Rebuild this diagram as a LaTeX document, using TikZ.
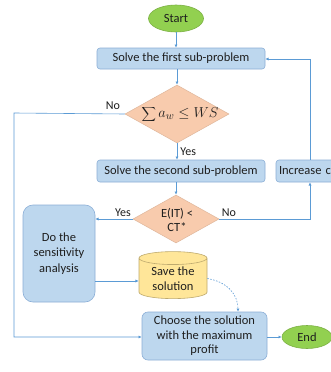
\documentclass[tikz,border=0pt]{standalone}
\usepackage{fontspec}
\setmainfont{Carlito}
\usetikzlibrary{shapes.geometric,arrows.meta}
\definecolor{boxfill}{RGB}{189,215,238}
\definecolor{boxline}{RGB}{140,175,215}
\definecolor{linec}{RGB}{91,155,213}
\definecolor{dfill}{RGB}{248,203,173}
\definecolor{gfill}{RGB}{146,208,80}
\definecolor{yfill}{RGB}{255,230,153}
\definecolor{yline}{RGB}{190,170,110}
\definecolor{txt}{RGB}{30,30,30}
\tikzset{
  box/.style={rectangle, rounded corners=3pt, draw=boxline, fill=boxfill, line width=0.6pt, inner sep=2pt, align=center, text=txt},
  term/.style={ellipse, draw=gfill!85!black, fill=gfill, line width=0.6pt, inner sep=0pt, text=txt},
  dec/.style={diamond, draw=dfill!90!black, fill=dfill, line width=0.5pt, inner sep=0pt, align=center, text=txt},
  conn/.style={draw=linec, line width=0.6pt, -{Latex[length=3.2pt,width=3pt]}},
  lbl/.style={font=\fontsize{12}{13}\selectfont, text=txt, inner sep=1pt},
}
\begin{document}
\begin{tikzpicture}[x=1pt,y=-1pt, font=\fontsize{12.5}{14.5}\selectfont]
\useasboundingbox (0,0) rectangle (331,372);
\clip (0,0) rectangle (331,372);
\fill[white] (0,0) rectangle (331,372);
\node[term, minimum width=55pt, minimum height=27pt] (start) at (176,18.5) {Start};
\node[box, minimum width=168pt, minimum height=21pt] (s1) at (181,58.5) {Solve the first sub-problem};
\node[dec, minimum width=104pt, minimum height=58pt] (d1) at (177,114) {};
\node[text=txt, font=\fontsize{15}{16}\selectfont] (d1t) at (180,114) {$\displaystyle\sum a_w \leq WS$};
\node[box, minimum width=168pt, minimum height=22pt] (s2) at (181,171) {Solve the second sub-problem};
\node[box, minimum width=84pt, minimum height=22pt, text width=78pt, align=left] (inc) at (318,171) {Increase c};
\node[dec, minimum width=86pt, minimum height=48pt] (d2) at (176,219) {};
\node[text=txt, align=center, font=\fontsize{12.5}{13.5}\selectfont] (d2t) at (177,220) {E(IT) <\\CT*};
\node[box, rounded corners=10pt, minimum width=72pt, minimum height=97pt, font=\fontsize{12.5}{15.5}\selectfont] (do) at (59,253.5) {Do the\\sensitivity\\analysis};
\node[cylinder, shape border rotate=90, aspect=0.3, draw=yline, fill=yfill, line width=0.6pt, minimum width=68pt, minimum height=47pt, align=center, text=txt, inner sep=0pt] (save) at (173,278.5) {Save the\\solution};
\node[box, rounded corners=6pt, minimum width=125pt, minimum height=48pt] (choose) at (204.5,336) {Choose the solution\\with the maximum\\profit};
\node[term, minimum width=50pt, minimum height=23pt] (end) at (307,337) {End};
\coordinate (c1) at (14,113);
\coordinate (c2) at (14,337);
\coordinate (c3) at (310,219);
\coordinate (c4) at (310,59);
\draw[conn] (start) -- (start|-s1.north);
\draw[conn] (s1.south-|d1) -- (d1.north);
\draw[conn] (d1.south) -- (d1.south|-s2.north) node[lbl, midway, right=2pt] {Yes};
\draw[conn] (s2.south-|d2) -- (d2.north);
\draw[conn] (d1.west) -- (c1) -- (c2) -- (choose.west|-c2);
\node[lbl] (no1) at (113,106) {No};
\draw[conn] (d2.west) -- (do.east|-d2.west);
\node[lbl] (yes2) at (123,213) {Yes};
\draw[conn] (d2.east) -- (c3) -- (c3|-inc.south);
\node[lbl] (no2) at (229,213) {No};
\draw[conn] (c3|-inc.north) -- (c4) -- (s1.east|-c4);
\coordinate (dsa) at (do.east|-0,281);
\draw[conn] (dsa) -- (save.west|-dsa);
\draw[draw=linec, line width=0.6pt, dashed, dash pattern=on 1.5pt off 1.5pt, -{Latex[length=3.2pt,width=3pt]}] (save.east) .. controls (228,282) and (238,295) .. (choose.north-|238,0);
\draw[conn] (choose.east|-end) -- (end.west);
\end{tikzpicture}
\end{document}
